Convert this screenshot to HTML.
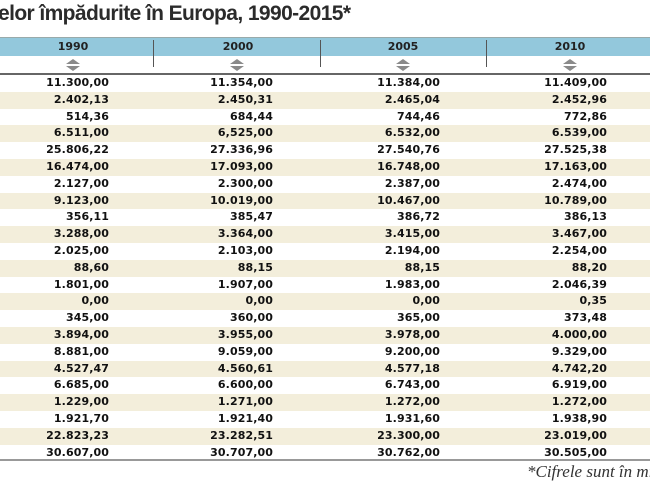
<!DOCTYPE html>
<html><head><meta charset="utf-8"><style>
body{margin:0;width:650px;height:488px;background:#fff;position:relative;overflow:hidden;font-family:"Liberation Sans",sans-serif}
.t{position:absolute;left:-2px;top:2px;font-size:21px;font-weight:bold;color:#2b2b2b;letter-spacing:-0.6px;white-space:nowrap}
.hd{position:absolute;left:0;top:37px;width:650px;height:18px;background:#93c8dc;border-top:1px solid #9aa}
.ar{position:absolute;left:0;top:56px;width:650px;height:17px;border-bottom:2px solid #666}
.sep{position:absolute;width:1px;background:#555;top:40px;height:27px}
.yr{position:absolute;top:38px;height:18px;line-height:18px;font-family:"DejaVu Sans",sans-serif;font-size:11px;font-weight:bold;color:#222;text-align:center;width:80px}
.row{position:absolute;left:0;width:650px;height:16.8px}
.b{background:#f3eedb}
.c{position:absolute;font-family:"DejaVu Sans",sans-serif;font-size:11px;font-weight:bold;color:#111;text-align:right;width:100px;line-height:16.8px;letter-spacing:0.1px}
.bot{position:absolute;left:0;top:459px;width:650px;height:2px;background:#999}
.fn{position:absolute;left:527px;top:462px;font-family:"Liberation Serif",serif;font-style:italic;font-size:17px;color:#333;white-space:nowrap}
</style></head><body>
<div class="t">elor împădurite în Europa, 1990-2015*</div>
<div class="hd"></div>
<div class="ar"></div>
<div class="sep" style="left:153px"></div>
<div class="sep" style="left:320px"></div>
<div class="sep" style="left:486px"></div>
<div class="yr" style="left:33px">1990</div>
<div class="yr" style="left:198px">2000</div>
<div class="yr" style="left:363px">2005</div>
<div class="yr" style="left:530px">2010</div>
<svg width="650" height="20" style="position:absolute;left:0;top:56px">
<g fill="#8a8a8a">
<polygon points="66,8 80,8 73,3"/><polygon points="66,10 80,10 73,15"/>
<polygon points="230,8 244,8 237,3"/><polygon points="230,10 244,10 237,15"/>
<polygon points="396,8 410,8 403,3"/><polygon points="396,10 410,10 403,15"/>
<polygon points="563,8 577,8 570,3"/><polygon points="563,10 577,10 570,15"/>
</g></svg>
<div id="rows"></div>
<script>
var d=[["11.300,00","11.354,00","11.384,00","11.409,00"],["2.402,13","2.450,31","2.465,04","2.452,96"],["514,36","684,44","744,46","772,86"],["6.511,00","6,525,00","6.532,00","6.539,00"],["25.806,22","27.336,96","27.540,76","27.525,38"],["16.474,00","17.093,00","16.748,00","17.163,00"],["2.127,00","2.300,00","2.387,00","2.474,00"],["9.123,00","10.019,00","10.467,00","10.789,00"],["356,11","385,47","386,72","386,13"],["3.288,00","3.364,00","3.415,00","3.467,00"],["2.025,00","2.103,00","2.194,00","2.254,00"],["88,60","88,15","88,15","88,20"],["1.801,00","1.907,00","1.983,00","2.046,39"],["0,00","0,00","0,00","0,35"],["345,00","360,00","365,00","373,48"],["3.894,00","3.955,00","3.978,00","4.000,00"],["8.881,00","9.059,00","9.200,00","9.329,00"],["4.527,47","4.560,61","4.577,18","4.742,20"],["6.685,00","6.600,00","6.743,00","6.919,00"],["1.229,00","1.271,00","1.272,00","1.272,00"],["1.921,70","1.921,40","1.931,60","1.938,90"],["22.823,23","23.282,51","23.300,00","23.019,00"],["30.607,00","30.707,00","30.762,00","30.505,00"]];
var r=[109,273,440,607],h="";
d.forEach(function(x,i){h+='<div class="row'+(i%2?' b':'')+'" style="top:'+(75+i*16.8)+'px">';x.forEach(function(v,j){h+='<div class="c" style="left:'+(r[j]-100)+'px">'+v+'</div>'});h+='</div>'});
document.getElementById('rows').innerHTML=h;
</script>
<div class="bot"></div>
<div class="fn">*Cifrele sunt în mii</div>
</body></html>
